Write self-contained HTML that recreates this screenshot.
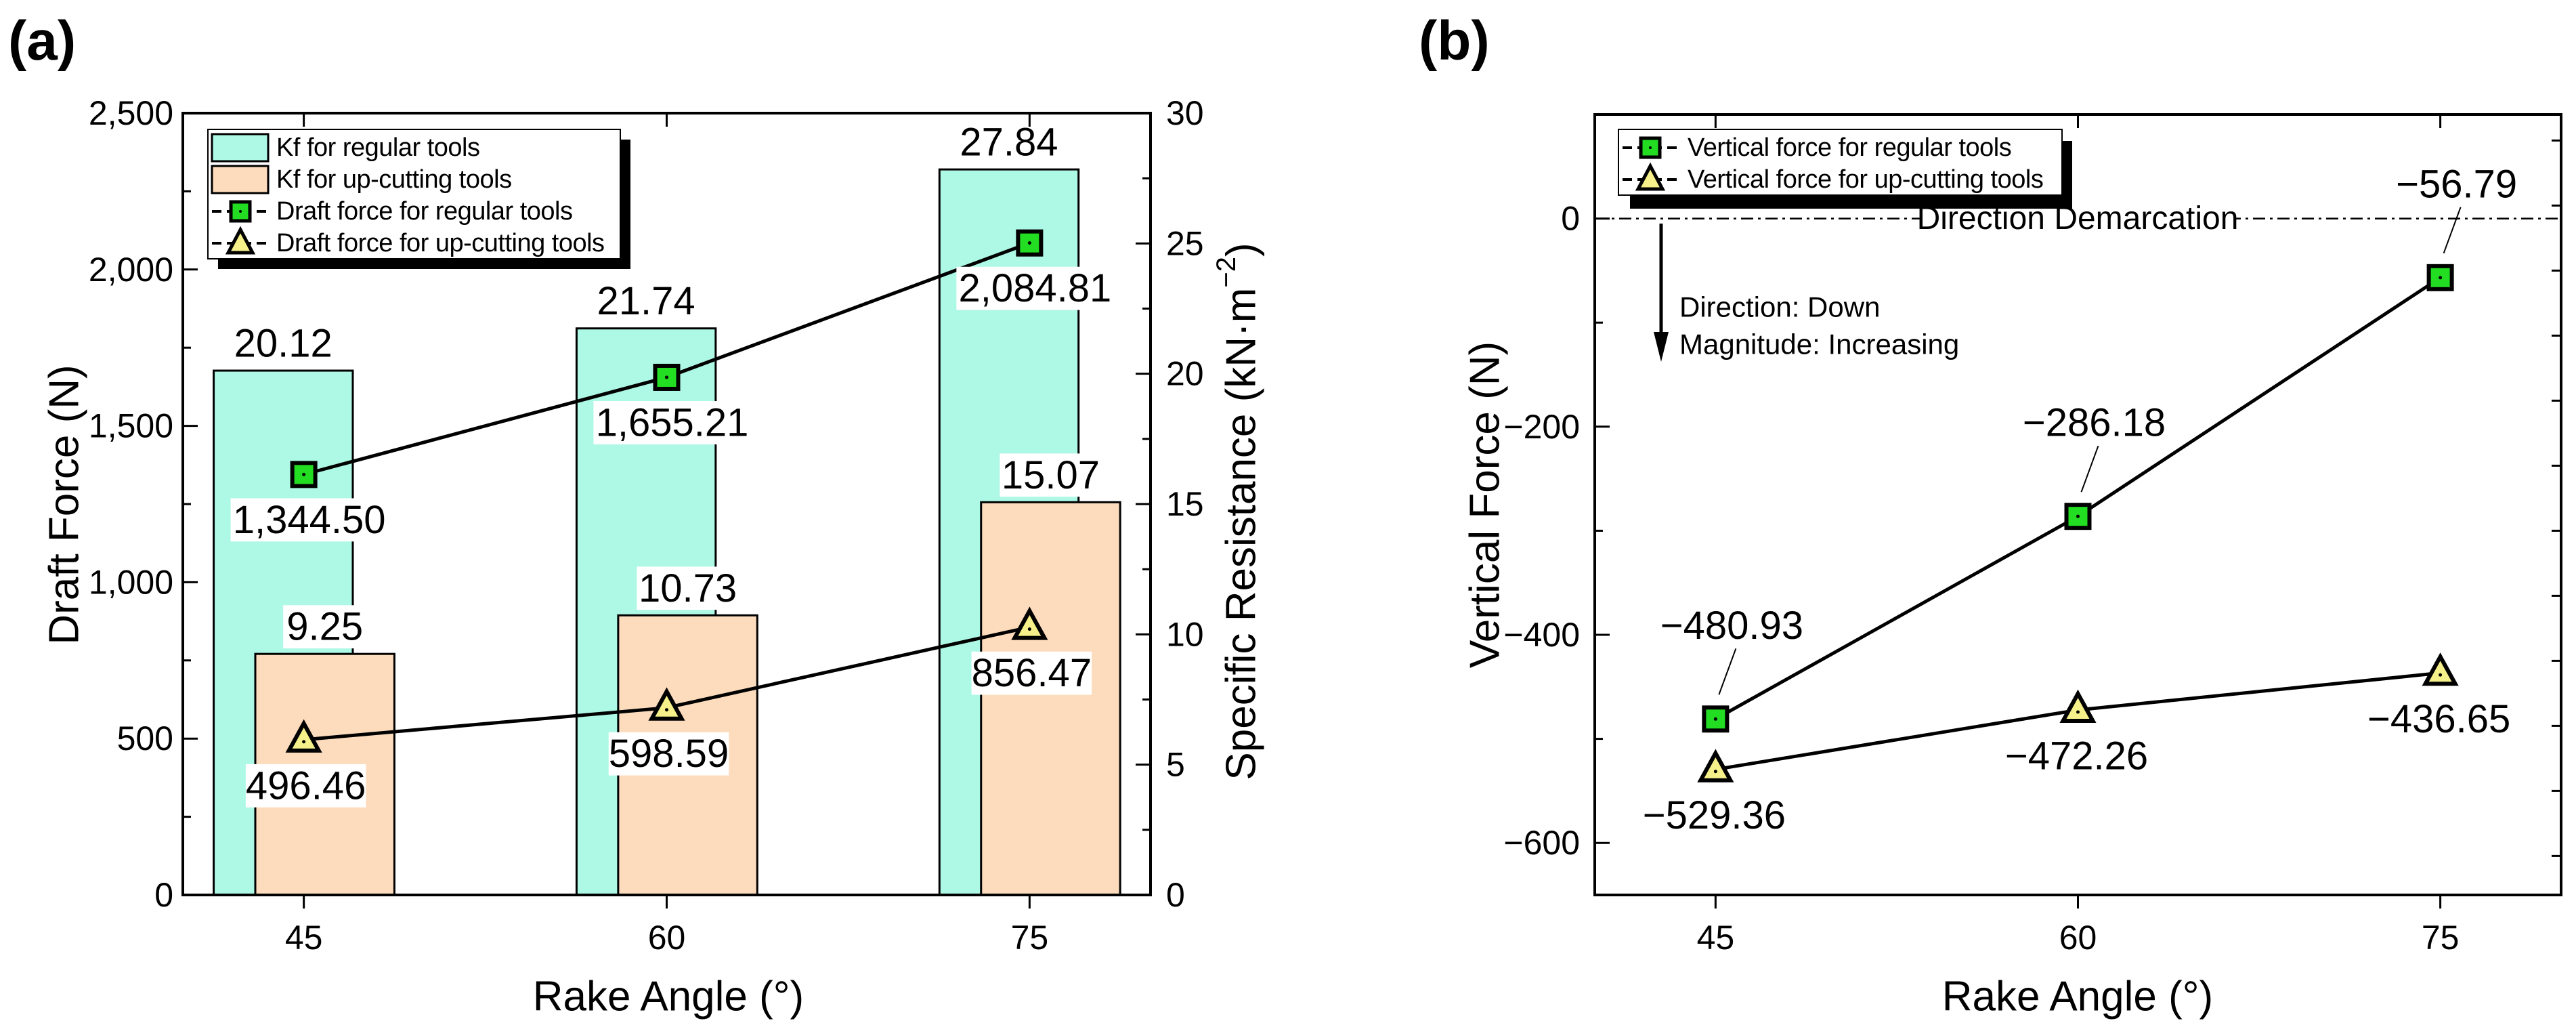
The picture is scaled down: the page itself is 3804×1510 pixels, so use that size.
<!DOCTYPE html>
<html><head><meta charset="utf-8"><style>
html,body{margin:0;padding:0;background:#fff;}
svg{display:block;}
text{font-family:"Liberation Sans Narrow","Liberation Sans",sans-serif;fill:#000;}
</style></head><body>
<svg id="fig" width="3804" height="1510" viewBox="0 0 3804 1510" xmlns="http://www.w3.org/2000/svg"></svg>
<script>
const cats=[45,60,75];
const kfReg=[20.12,21.74,27.84];
const kfUp=[9.25,10.73,15.07];
const draftReg=[1344.50,1655.21,2084.81];
const draftUp=[496.46,598.59,856.47];
const vertReg=[-480.93,-286.18,-56.79];
const vertUp=[-529.36,-472.26,-436.65];
const draftTicks=[0,500,1000,1500,2000,2500];
const resTicks=[0,5,10,15,20,25,30];
const vertTicks=[0,-200,-400,-600];

const NS='http://www.w3.org/2000/svg';
const svg=document.getElementById('fig');
function mk(tag,attrs,parent,txt){const e=document.createElementNS(NS,tag);for(const k in attrs)e.setAttribute(k,attrs[k]);if(txt!==undefined)e.textContent=txt;(parent||svg).appendChild(e);return e;}

const A={l:270,r:1699,t:167,b:1321};
const axA=v=>A.l+(v-40)/40*(A.r-A.l);
const ayL=v=>A.b-v/2500*(A.b-A.t);
const ayR=v=>A.b-v/30*(A.b-A.t);
const B={l:2355,r:3782,t:169,b:1321};
const bx=v=>B.l+(v-40)/40*(B.r-B.l);
const by=v=>B.t+(100-v)/750*(B.b-B.t);

function fmtComma(v){return v.toLocaleString('en-US',{minimumFractionDigits:2,maximumFractionDigits:2});}
function fmtNeg(v){return (v<0?'\u2212':'')+Math.abs(v).toFixed(2);}

function square(g,x,y){
  const s=mk('rect',{x:x-17,y:y-17,width:34,height:34,fill:'#22dd22',stroke:'#000','stroke-width':6},g);
  mk('circle',{cx:x,cy:y,r:2.5,fill:'#000'},g);return s;}
function tri(g,x,y){
  const s=mk('polygon',{points:`${x},${y-24} ${x-22},${y+16} ${x+22},${y+16}`,fill:'#f6f08a',stroke:'#000','stroke-width':6,'stroke-linejoin':'miter'},g);
  mk('circle',{cx:x,cy:y+3,r:2.5,fill:'#000'},g);return s;}
function boxLabel(g,x,y,str,size){
  const w=str.length*size*0.47+14;
  mk('rect',{x:x-w/2,y:y-size*0.55,width:w,height:size*1.1,fill:'#fff'},g);
  return mk('text',{x:x,y:y,'font-size':size,'text-anchor':'middle','dominant-baseline':'central'},g,str);}

// ===== Panel A =====
const pa=mk('g',{});


const pl=mk('text',{x:12,y:88,'font-size':82,'font-weight':'bold','font-family':'Liberation Sans, sans-serif'},pa,'(a)');



const bw=5.75*(A.r-A.l)/40;
cats.forEach((c,i)=>{
  const cx=axA(c-0.85);
  const r=mk('rect',{x:cx-bw/2,y:ayR(kfReg[i]),width:bw,height:A.b-ayR(kfReg[i]),fill:'#aef8e6',stroke:'#000','stroke-width':3},pa);
  
  
  const t=mk('text',{x:cx,y:ayR(kfReg[i])-40,'font-size':58,'text-anchor':'middle','dominant-baseline':'central'},pa,kfReg[i].toFixed(2));
  
  
});
cats.forEach((c,i)=>{
  const cx=axA(c+0.87);
  const r=mk('rect',{x:cx-bw/2,y:ayR(kfUp[i]),width:bw,height:A.b-ayR(kfUp[i]),fill:'#fddcbd',stroke:'#000','stroke-width':3},pa);
  
  
  const t=boxLabel(pa,cx,ayR(kfUp[i])-40,kfUp[i].toFixed(2),58);
  
  
});
const lr=mk('polyline',{points:cats.map((c,i)=>axA(c)+','+ayL(draftReg[i])).join(' '),fill:'none',stroke:'#000','stroke-width':5},pa);


const lu=mk('polyline',{points:cats.map((c,i)=>axA(c)+','+ayL(draftUp[i])).join(' '),fill:'none',stroke:'#000','stroke-width':5},pa);


cats.forEach((c,i)=>{
  const x=axA(c),y=ayL(draftReg[i]);
  const t=boxLabel(pa,x+8,y+67,fmtComma(draftReg[i]),58);
  
  
  const m=square(pa,x,y);
  
  
  const y2=ayL(draftUp[i]);
  const t2=boxLabel(pa,x+3,y2+68,fmtComma(draftUp[i]),58);
  
  
  const m2=tri(pa,x,y2);
  
  
});
const fa=mk('rect',{x:A.l,y:A.t,width:A.r-A.l,height:A.b-A.t,fill:'none',stroke:'#000','stroke-width':4},pa);


for(let v=0;v<=2500;v+=250){mk('line',{x1:A.l,x2:A.l+(v%500?12:22),y1:ayL(v),y2:ayL(v),stroke:'#000','stroke-width':3},pa);}
for(let v=0;v<=30;v+=2.5){mk('line',{x1:A.r,x2:A.r-(v%5?12:22),y1:ayR(v),y2:ayR(v),stroke:'#000','stroke-width':3},pa);}
cats.forEach(c=>{mk('line',{x1:axA(c),x2:axA(c),y1:A.b,y2:A.b+20,stroke:'#000','stroke-width':3},pa);mk('line',{x1:axA(c),x2:axA(c),y1:A.t,y2:A.t+20,stroke:'#000','stroke-width':3},pa);});
draftTicks.forEach(v=>{const t=mk('text',{x:256,y:ayL(v),'font-size':50,'text-anchor':'end','dominant-baseline':'central'},pa,v.toLocaleString('en-US'));
  
  });
resTicks.forEach(v=>{const t=mk('text',{x:1722,y:ayR(v),'font-size':50,'text-anchor':'start','dominant-baseline':'central'},pa,String(v));
  
  });
cats.forEach(c=>{const t=mk('text',{x:axA(c),y:1384,'font-size':50,'text-anchor':'middle','dominant-baseline':'central'},pa,String(c));
  
  });
const ta1=mk('text',{x:987,y:1471,'font-size':62,'text-anchor':'middle','dominant-baseline':'central'},pa,'Rake Angle (°)');


const ta2=mk('text',{x:0,y:0,'font-size':62,'text-anchor':'middle','dominant-baseline':'central',transform:'translate(95,745) rotate(-90)'},pa,'Draft Force (N)');


const ta3=mk('text',{x:0,y:0,'font-size':62,'text-anchor':'middle','dominant-baseline':'central',transform:'translate(1833,755) rotate(-90)'},pa);


ta3.appendChild(document.createTextNode('Specific Resistance (kN·m'));
mk('tspan',{'font-size':40,dy:-22},ta3,'−2');
mk('tspan',{dy:22},ta3,')');
const lga=mk('g',{},pa);


mk('rect',{x:322,y:206,width:609,height:191,fill:'#000'},lga);
mk('rect',{x:307,y:191,width:609,height:191,fill:'#fff',stroke:'#000','stroke-width':2},lga);
const legA=[['Kf for regular tools','bar','#aef8e6'],['Kf for up-cutting tools','bar','#fddcbd'],['Draft force for regular tools','sq'],['Draft force for up-cutting tools','tri']];
legA.forEach((e,i)=>{
  const y=218+i*47;
  const g=mk('g',{},lga);
  
  
  if(e[1]==='bar'){mk('rect',{x:313,y:y-20,width:83,height:40,fill:e[2],stroke:'#000','stroke-width':3},g);}
  else{mk('line',{x1:313,x2:396,y1:y,y2:y,stroke:'#000','stroke-width':4,'stroke-dasharray':'14 8'},g);
    if(e[1]==='sq'){mk('rect',{x:341,y:y-14,width:28,height:28,fill:'#22dd22',stroke:'#000','stroke-width':5},g);mk('circle',{cx:355,cy:y,r:2,fill:'#000'},g);}
    else{mk('polygon',{points:`355,${y-20} 337,${y+14} 373,${y+14}`,fill:'#f6f08a',stroke:'#000','stroke-width':5},g);}}
  mk('text',{x:408,y:y,'font-size':38,'letter-spacing':-0.5,'dominant-baseline':'central'},g,e[0]);
});

// ===== Panel B =====
const pb=mk('g',{});


const plb=mk('text',{x:2095,y:88,'font-size':82,'font-weight':'bold','font-family':'Liberation Sans, sans-serif'},pb,'(b)');


const dm=mk('line',{x1:B.l,x2:B.r,y1:by(0),y2:by(0),stroke:'#000','stroke-width':2.5,'stroke-dasharray':'18 7 4 7'},pb);


mk('rect',{x:2835,y:by(0)-26,width:466,height:52,fill:'#fff'},pb);
const dmt=mk('text',{x:3068,y:by(0),'font-size':48,'text-anchor':'middle','dominant-baseline':'central'},pb,'Direction Demarcation');


const ar=mk('g',{},pb);


mk('line',{x1:2453,x2:2453,y1:330,y2:495,stroke:'#000','stroke-width':5},ar);
mk('polygon',{points:'2442,490 2464,490 2453,534',fill:'#000'},ar);
const d1=mk('text',{x:2480,y:453,'font-size':42,'dominant-baseline':'central'},pb,'Direction: Down');


const d2=mk('text',{x:2480,y:508,'font-size':42,'dominant-baseline':'central'},pb,'Magnitude: Increasing');



const vr=mk('polyline',{points:cats.map((c,i)=>bx(c)+','+by(vertReg[i])).join(' '),fill:'none',stroke:'#000','stroke-width':5},pb);


const vu=mk('polyline',{points:cats.map((c,i)=>bx(c)+','+by(vertUp[i])).join(' '),fill:'none',stroke:'#000','stroke-width':5},pb);


cats.forEach((c,i)=>{
  const x=bx(c),y=by(vertReg[i]);
  mk('line',{x1:x+30,y1:y-104,x2:x+5,y2:y-36,stroke:'#000','stroke-width':2},pb);
  const t=mk('text',{x:x+24,y:y-138,'font-size':58,'text-anchor':'middle','dominant-baseline':'central'},pb,fmtNeg(vertReg[i]));
  
  
  const m=square(pb,x,y);
  
  
  const y2=by(vertUp[i]);
  const t2=mk('text',{x:x-2,y:y2+68,'font-size':58,'text-anchor':'middle','dominant-baseline':'central'},pb,fmtNeg(vertUp[i]));
  
  
  const m2=tri(pb,x,y2);
  
  
});
const fb=mk('rect',{x:B.l,y:B.t,width:B.r-B.l,height:B.b-B.t,fill:'none',stroke:'#000','stroke-width':4},pb);


for(let v=0;v>=-600;v-=100){mk('line',{x1:B.l,x2:B.l+(v%200?12:22),y1:by(v),y2:by(v),stroke:'#000','stroke-width':3},pb);}
for(let v=75;v>=-625;v-=62.5){mk('line',{x1:B.r,x2:B.r-14,y1:by(v),y2:by(v),stroke:'#000','stroke-width':3},pb);}
cats.forEach(c=>{mk('line',{x1:bx(c),x2:bx(c),y1:B.b,y2:B.b+20,stroke:'#000','stroke-width':3},pb);mk('line',{x1:bx(c),x2:bx(c),y1:B.t,y2:B.t+20,stroke:'#000','stroke-width':3},pb);});
vertTicks.forEach(v=>{const t=mk('text',{x:2333,y:by(v),'font-size':50,'text-anchor':'end','dominant-baseline':'central'},pb,(v<0?'\u2212':'')+Math.abs(v));
  
  });
cats.forEach(c=>{const t=mk('text',{x:bx(c),y:1384,'font-size':50,'text-anchor':'middle','dominant-baseline':'central'},pb,String(c));
  
  });
const tb1=mk('text',{x:3068,y:1471,'font-size':62,'text-anchor':'middle','dominant-baseline':'central'},pb,'Rake Angle (°)');


const tb2=mk('text',{x:0,y:0,'font-size':62,'text-anchor':'middle','dominant-baseline':'central',transform:'translate(2193,745) rotate(-90)'},pb,'Vertical Force (N)');


const lgb=mk('g',{},pb);


mk('rect',{x:2407,y:208,width:653,height:100,fill:'#000'},lgb);
mk('rect',{x:2390,y:191,width:655,height:97,fill:'#fff',stroke:'#000','stroke-width':2},lgb);
const legB=[['Vertical force for regular tools','sq'],['Vertical force for up-cutting tools','tri']];
legB.forEach((e,i)=>{
  const y=218+i*47;
  const g=mk('g',{},lgb);
  
  
  mk('line',{x1:2396,x2:2480,y1:y,y2:y,stroke:'#000','stroke-width':4,'stroke-dasharray':'14 8'},g);
  if(e[1]==='sq'){mk('rect',{x:2423,y:y-14,width:28,height:28,fill:'#22dd22',stroke:'#000','stroke-width':5},g);mk('circle',{cx:2437,cy:y,r:2,fill:'#000'},g);}
  else{mk('polygon',{points:`2437,${y-20} 2419,${y+14} 2455,${y+14}`,fill:'#f6f08a',stroke:'#000','stroke-width':5},g);}
  mk('text',{x:2492,y:y,'font-size':38,'letter-spacing':-0.5,'dominant-baseline':'central'},g,e[0]);
});
</script>
</body></html>
